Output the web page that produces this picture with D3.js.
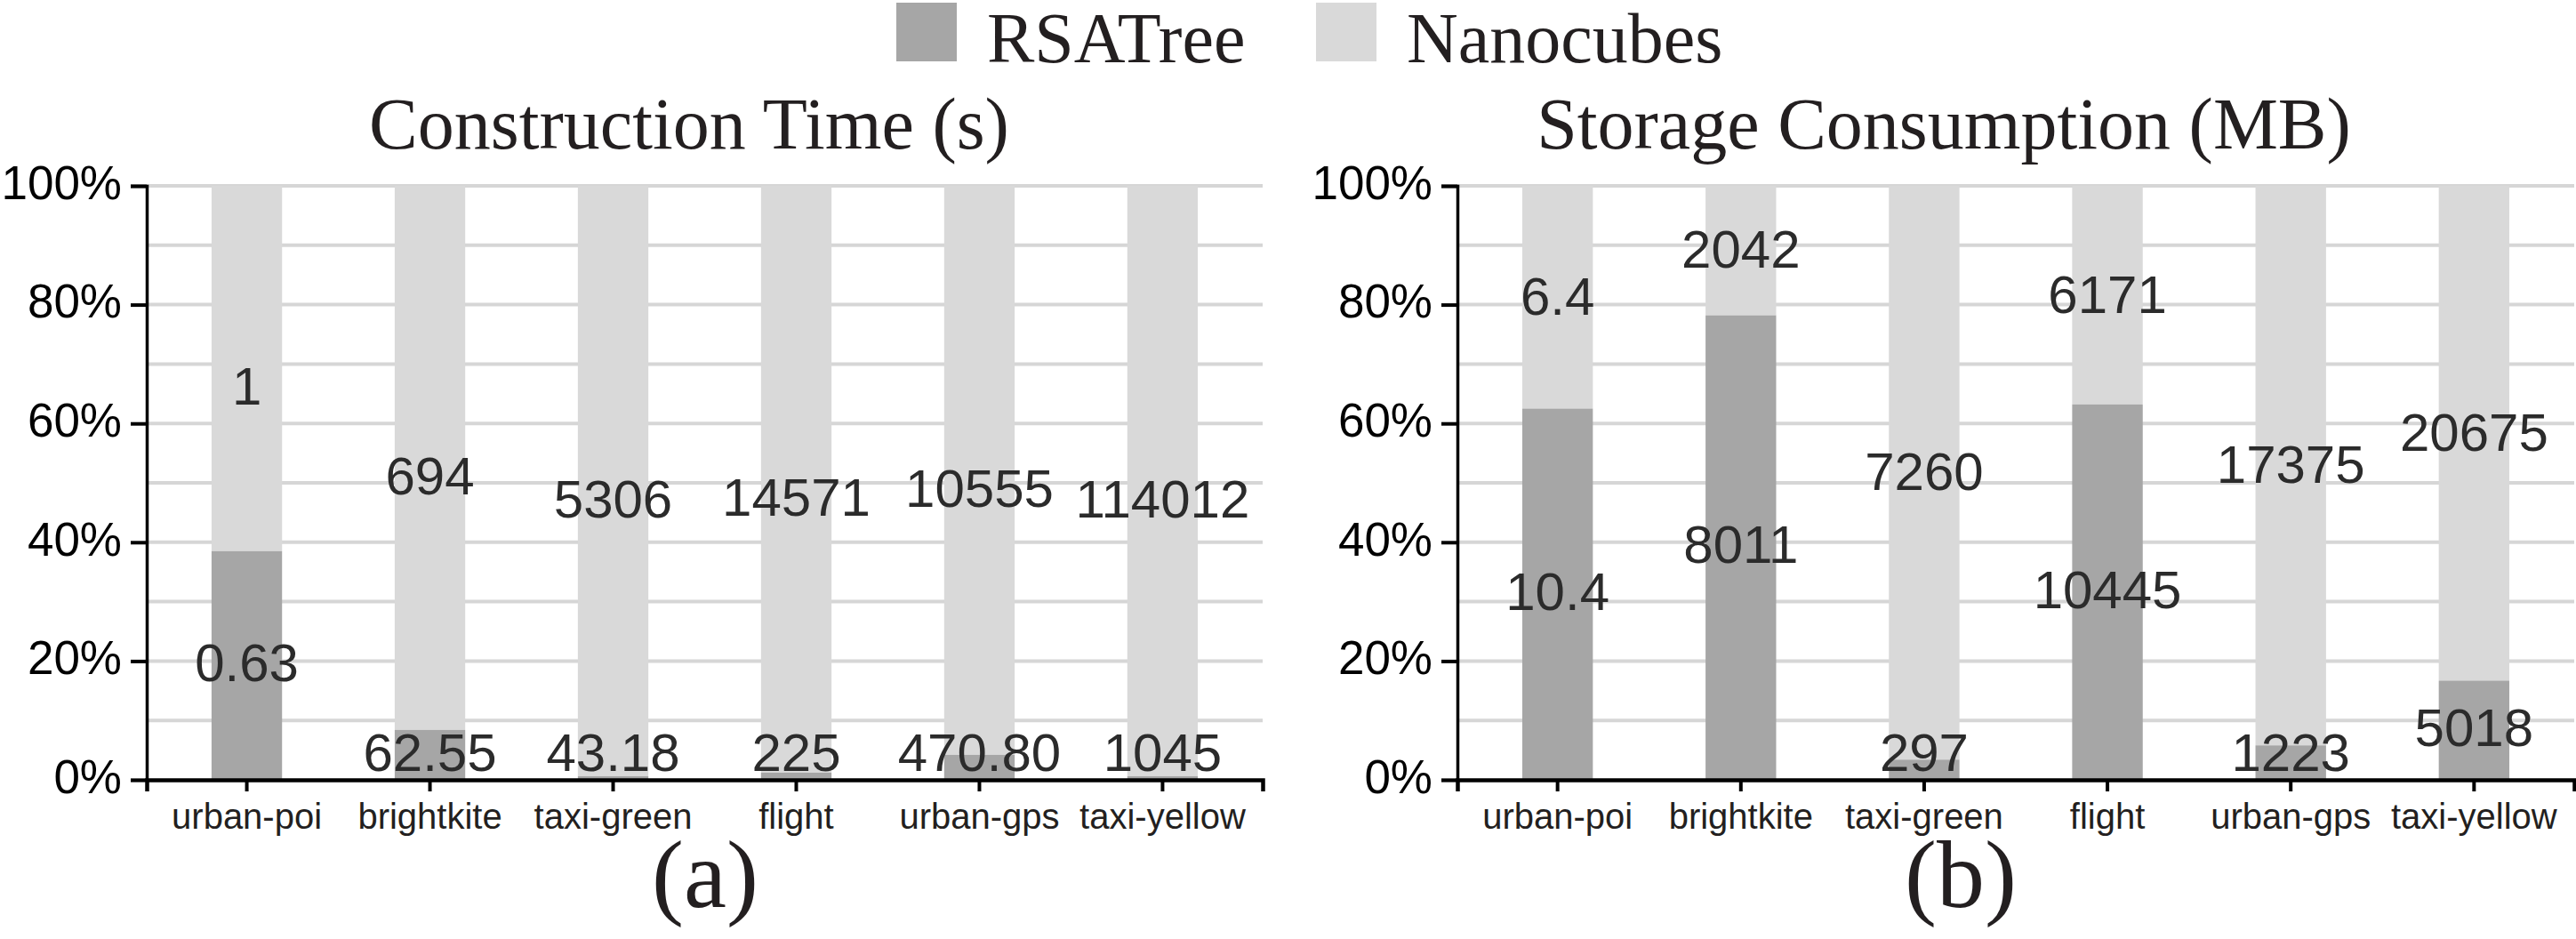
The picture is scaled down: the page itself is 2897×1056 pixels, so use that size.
<!DOCTYPE html>
<html>
<head>
<meta charset="utf-8">
<script src="https://cdn.jsdelivr.net/npm/d3@7"></script>
<style>
  html, body { margin: 0; padding: 0; background: #ffffff; }
  svg { display: block; }
</style>
</head>
<body>
<svg id="chart" width="2897" height="1056"></svg>
<script>
// ---------------- data ----------------
const categories = ["urban-poi", "brightkite", "taxi-green", "flight", "urban-gps", "taxi-yellow"];
const seriesNames = ["RSATree", "Nanocubes"];

// (a) Construction Time (s) — value labels
const timeRSATree   = ["0.63", "62.55", "43.18", "225", "470.80", "1045"];
const timeNanocubes = ["1", "694", "5306", "14571", "10555", "114012"];
// (a) RSATree share of each stacked bar (%)
const timeRSATreeShare = [38.5, 8.4, 0.6, 1.2, 4.2, 0.6];

// (b) Storage Consumption (MB) — value labels
const storageRSATree   = ["10.4", "8011", "297", "10445", "1223", "5018"];
const storageNanocubes = ["6.4", "2042", "7260", "6171", "17375", "20675"];
// (b) RSATree share of each stacked bar (%)
const storageRSATreeShare = [62.5, 78.2, 3.4, 63.2, 5.8, 16.7];

const yTicks = [0, 20, 40, 60, 80, 100];
const yGrid  = [10, 20, 30, 40, 50, 60, 70, 80, 90, 100];

const panelTitles = ["Construction Time (s)", "Storage Consumption (MB)"];
const panelCaptions = ["(a)", "(b)"];

// ---------------- styles ----------------
const C_RSA = "#a6a6a6";
const C_NANO = "#d9d9d9";
const C_GRID = "#d6d6d6";
const C_TEXT = "#231f20";
const C_LABEL = "#2b2b2b";
const SANS = "'Liberation Sans', Arial, Helvetica, sans-serif";
const SERIF = "'Liberation Serif', 'Times New Roman', Times, serif";

const svg = d3.select("#chart");

// ---------------- legend ----------------
const legend = svg.append("g");
const legendItems = [
  { name: seriesNames[0], color: C_RSA, x: 1008 },
  { name: seriesNames[1], color: C_NANO, x: 1480 }
];
legendItems.forEach(it => {
  legend.append("rect").attr("x", it.x).attr("y", 3).attr("width", 68).attr("height", 66).attr("fill", it.color);
  legend.append("text").attr("x", it.x + 102).attr("y", 70)
    .attr("font-family", SERIF).attr("font-size", 80).attr("fill", C_TEXT).text(it.name);
});

// ---------------- panels ----------------
const panels = [
  { x0: 165, x1: 1420, rsa: timeRSATree, nano: timeNanocubes, share: timeRSATreeShare, nanoShift: 19,
    title: panelTitles[0], titleX: 775, caption: panelCaptions[0], captionX: 793 },
  { x0: 1639, x1: 2895, rsa: storageRSATree, nano: storageNanocubes, share: storageRSATreeShare, nanoShift: -2,
    title: panelTitles[1], titleX: 2186, caption: panelCaptions[1], captionX: 2205 }
];

const Y0 = 877, Y1 = 209;

panels.forEach(p => {
  const g = svg.append("g");
  const x = d3.scaleBand().domain(categories).range([p.x0, p.x1]).paddingInner(0.615).paddingOuter(0.354);
  const y = d3.scaleLinear().domain([0, 100]).range([Y0, Y1]);

  // title
  g.append("text").attr("x", p.titleX).attr("y", 167).attr("text-anchor", "middle")
    .attr("font-family", SERIF).attr("font-size", 82).attr("fill", C_TEXT).text(p.title);

  // gridlines
  g.append("g").selectAll("line").data(yGrid).join("line")
    .attr("x1", p.x0).attr("x2", p.x1)
    .attr("y1", d => y(d)).attr("y2", d => y(d))
    .attr("stroke", C_GRID).attr("stroke-width", 4);

  const rows = categories.map((c, i) => ({ cat: c, share: p.share[i], rsa: p.rsa[i], nano: p.nano[i] }));

  // stacked bars
  g.append("g").selectAll("rect.nano").data(rows).join("rect")
    .attr("x", d => x(d.cat)).attr("width", x.bandwidth())
    .attr("y", y(100)).attr("height", d => y(d.share) - y(100))
    .attr("fill", C_NANO);
  g.append("g").selectAll("rect.rsa").data(rows).join("rect")
    .attr("x", d => x(d.cat)).attr("width", x.bandwidth())
    .attr("y", d => y(d.share)).attr("height", d => y(0) - y(d.share))
    .attr("fill", C_RSA);

  // value labels
  const cx = d => x(d.cat) + x.bandwidth() / 2;
  const clampY = v => Math.min(v, Y0 - 32);
  g.append("g").selectAll("text.nano").data(rows).join("text")
    .attr("x", cx)
    .attr("y", d => clampY((y(d.share) + y(100)) / 2 + p.nanoShift))
    .attr("dy", "0.36em").attr("text-anchor", "middle")
    .attr("font-family", SANS).attr("font-size", 60).attr("fill", C_LABEL)
    .text(d => d.nano);
  g.append("g").selectAll("text.rsa").data(rows).join("text")
    .attr("x", cx)
    .attr("y", d => clampY((y(d.share) + y(0)) / 2 - 4))
    .attr("dy", "0.36em").attr("text-anchor", "middle")
    .attr("font-family", SANS).attr("font-size", 60).attr("fill", C_LABEL)
    .text(d => d.rsa);

  // y axis
  const ya = g.append("g").attr("transform", `translate(${p.x0},0)`)
    .call(d3.axisLeft(y).tickValues(yTicks).tickFormat(d => d + "%").tickSize(18).tickSizeOuter(18).tickPadding(10));
  ya.select(".domain").attr("stroke", "#000").attr("stroke-width", 3.5);
  ya.selectAll(".tick line").attr("stroke", "#000").attr("stroke-width", 4);
  ya.selectAll(".tick text").attr("font-family", SANS).attr("font-size", 53).attr("fill", "#000").attr("dy", "0.27em");

  // x axis
  const xa = g.append("g").attr("transform", `translate(0,${Y0})`)
    .call(d3.axisBottom(x).tickSize(13).tickSizeOuter(13).tickPadding(14));
  xa.select(".domain").attr("stroke", "#000").attr("stroke-width", 4.5);
  xa.selectAll(".tick line").attr("stroke", "#000").attr("stroke-width", 4);
  xa.selectAll(".tick text").attr("font-family", SANS).attr("font-size", 40).attr("fill", C_TEXT);

  // caption
  g.append("text").attr("x", p.captionX).attr("y", 1020).attr("text-anchor", "middle")
    .attr("font-family", SERIF).attr("font-size", 108).attr("fill", C_TEXT).text(p.caption);
});
</script>
</body>
</html>
